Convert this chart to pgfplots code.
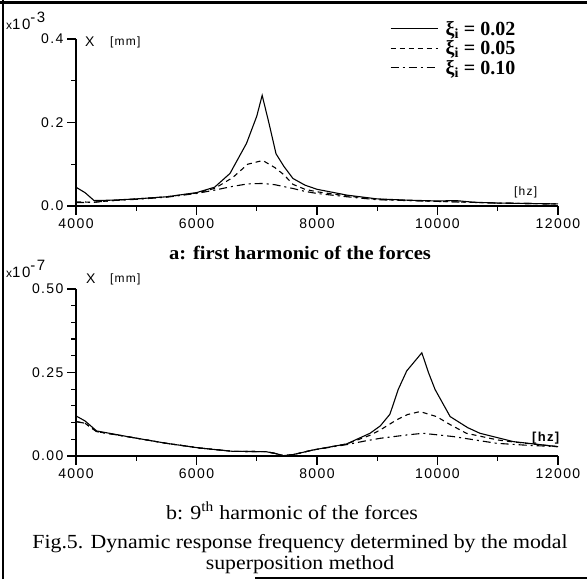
\documentclass[border=0pt]{standalone}
\usepackage{pgfplots}
\pgfplotsset{compat=1.18}
\usepackage{fontspec}
\setmainfont{Liberation Serif}
\newfontfamily\plotfont{Liberation Sans}[LetterSpace=10]
\pgfplotstableread{
x y
4000 0.045
4150 0.032
4300 0.013
4600 0.014
5000 0.017
5500 0.022
6000 0.032
6300 0.045
6556 0.078
6830 0.150
7000 0.215
7090 0.265
7200 0.200
7320 0.125
7450 0.095
7600 0.066
7800 0.050
8000 0.040
8500 0.026
9000 0.017
9500 0.014
10000 0.012
10300 0.013
10600 0.009
11000 0.007
11500 0.006
12000 0.005
}\topA
\pgfplotstableread{
x y
4000 0.010
4300 0.009
4600 0.013
5000 0.017
5500 0.022
6000 0.031
6300 0.042
6600 0.068
6850 0.100
7100 0.109
7300 0.092
7450 0.075
7600 0.052
7800 0.040
8000 0.034
8500 0.024
9000 0.016
10000 0.011
11000 0.007
12000 0.005
}\topB
\pgfplotstableread{
x y
4000 0.008
4300 0.009
4600 0.013
5000 0.016
5500 0.021
6000 0.030
6300 0.038
6600 0.047
6850 0.053
7100 0.054
7300 0.051
7600 0.042
7800 0.035
8000 0.030
8500 0.022
9000 0.015
10000 0.011
11000 0.007
12000 0.005
}\topC
\pgfplotstableread{
x y
4000 0.120
4150 0.105
4342 0.075
4950 0.055
5500 0.038
6050 0.024
6600 0.014
7150 0.013
7300 0.008
7440 0.001
7600 0.004
7934 0.018
8490 0.036
8880 0.068
9050 0.090
9210 0.125
9350 0.200
9490 0.255
9740 0.309
9850 0.250
9960 0.199
10210 0.118
10500 0.085
10705 0.068
11260 0.043
12000 0.028
}\botA
\pgfplotstableread{
x y
4000 0.103
4150 0.098
4342 0.073
4950 0.055
5500 0.038
6050 0.024
6600 0.014
7150 0.013
7300 0.008
7440 0.001
7600 0.004
7934 0.018
8490 0.036
8880 0.062
9050 0.078
9320 0.108
9500 0.124
9710 0.133
9985 0.118
10200 0.095
10480 0.068
11000 0.048
11260 0.042
12000 0.028
}\botB
\pgfplotstableread{
x y
4000 0.103
4150 0.098
4342 0.073
4950 0.055
5500 0.038
6050 0.024
6600 0.014
7150 0.013
7300 0.008
7440 0.001
7600 0.004
7934 0.018
8490 0.034
8800 0.045
9050 0.053
9490 0.063
9760 0.068
10270 0.058
10980 0.038
11500 0.032
12000 0.028
}\botC
\begin{document}
\begin{tikzpicture}[x=1pt,y=1pt]
\path[use as bounding box] (0,0) rectangle (587,579);
\draw[line width=2.5pt] (3,0) -- (3,579);
\draw[line width=2.5pt] (0,576.5) -- (587,576.5);
\draw[line width=1.5pt] (255,1) -- (587,1);
\pgfplotsset{myax/.style={scale only axis, width=482pt, height=167pt,
  xmin=4000, xmax=12000, axis lines*=left, tick align=outside,
  major tick length=9pt, minor tick length=5pt,
  xtick={4000,6000,8000,10000,12000}, minor xtick={5000,7000,9000,11000},
  scaled ticks=false, x tick label style={/pgf/number format/1000 sep={}},
  tick label style={font=\plotfont\fontsize{14}{14}\selectfont},
  /pgf/number format/assume math mode=true,
  every axis plot/.append style={black, line width=1.1pt},
  axis line style={line width=1.2pt}, tick style={line width=1.2pt, black},
  clip=false}}
\begin{axis}[myax, at={(76pt,373pt)}, anchor=south west,
  ymin=0, ymax=0.4, ytick={0,0.2,0.4}, minor ytick={0.1,0.3},
  yticklabel style={/pgf/number format/.cd, fixed, fixed zerofill, precision=1},
  legend style={draw=none, fill=none, at={(0.645,1.13)}, anchor=north west,
    font=\bfseries\fontsize{20}{20}\selectfont, row sep=1pt,
    nodes={inner sep=1.5pt},
    /tikz/every odd column/.append style={column sep=6pt}},
  legend cell align=left,
  legend image code/.code={\draw[#1] (0pt,0pt) -- (47pt,0pt);}]
\addplot[solid] table {\topA};
\addlegendentry{ξ\textsubscript{i} = 0.02}
\addplot[dash pattern=on 5pt off 4pt] table {\topB};
\addlegendentry{ξ\textsubscript{i} = 0.05}
\addplot[dash pattern=on 8pt off 4pt on 2pt off 4pt] table {\topC};
\addlegendentry{ξ\textsubscript{i} = 0.10}
\end{axis}
\begin{axis}[myax, at={(76pt,123pt)}, anchor=south west,
  ymin=0, ymax=0.5, ytick={0,0.25,0.5}, minor y tick num=4,
  yticklabel style={/pgf/number format/.cd, fixed, fixed zerofill, precision=2}]
\addplot[solid] table {\botA};
\addplot[dash pattern=on 5pt off 4pt] table {\botB};
\addplot[dash pattern=on 8pt off 4pt on 2pt off 4pt] table {\botC};
\end{axis}
\node[anchor=base west, font=\plotfont\fontsize{15}{15}\selectfont, inner sep=0] at (6,549) {{\fontsize{12}{12}\selectfont x}10\raisebox{7pt}{-3}};
\node[anchor=west, font=\plotfont\fontsize{14}{14}\selectfont, inner sep=0] at (85,537) {X};
\node[anchor=west, font=\plotfont\fontsize{12}{12}\selectfont, inner sep=0] at (110,537) {[mm]};
\node[anchor=west, font=\plotfont\fontsize{12}{12}\selectfont, inner sep=0] at (514,387) {[hz]};
\node[anchor=base west, font=\plotfont\fontsize{15}{15}\selectfont, inner sep=0] at (6,301) {{\fontsize{12}{12}\selectfont x}10\raisebox{7pt}{-7}};
\node[anchor=west, font=\plotfont\fontsize{14}{14}\selectfont, inner sep=0] at (86,300) {X};
\node[anchor=west, font=\plotfont\fontsize{12}{12}\selectfont, inner sep=0] at (110,300) {[mm]};
\node[anchor=west, font=\plotfont\bfseries\fontsize{13}{13}\selectfont, inner sep=0] at (532,141) {[hz]};
\node[font=\bfseries\fontsize{19}{19}\selectfont, inner sep=0, xscale=1.08] at (300,326) {a: first harmonic of the forces};
\node[font=\fontsize{20}{20}\selectfont, inner sep=0, xscale=1.1] at (292,68) {b: 9\textsuperscript{th} harmonic of the forces};
\node[font=\fontsize{20}{21}\selectfont, inner sep=0, align=center, xscale=1.09] at (300,25) {Fig.5. Dynamic response frequency determined by the modal\\superposition method};
\end{tikzpicture}
\end{document}
